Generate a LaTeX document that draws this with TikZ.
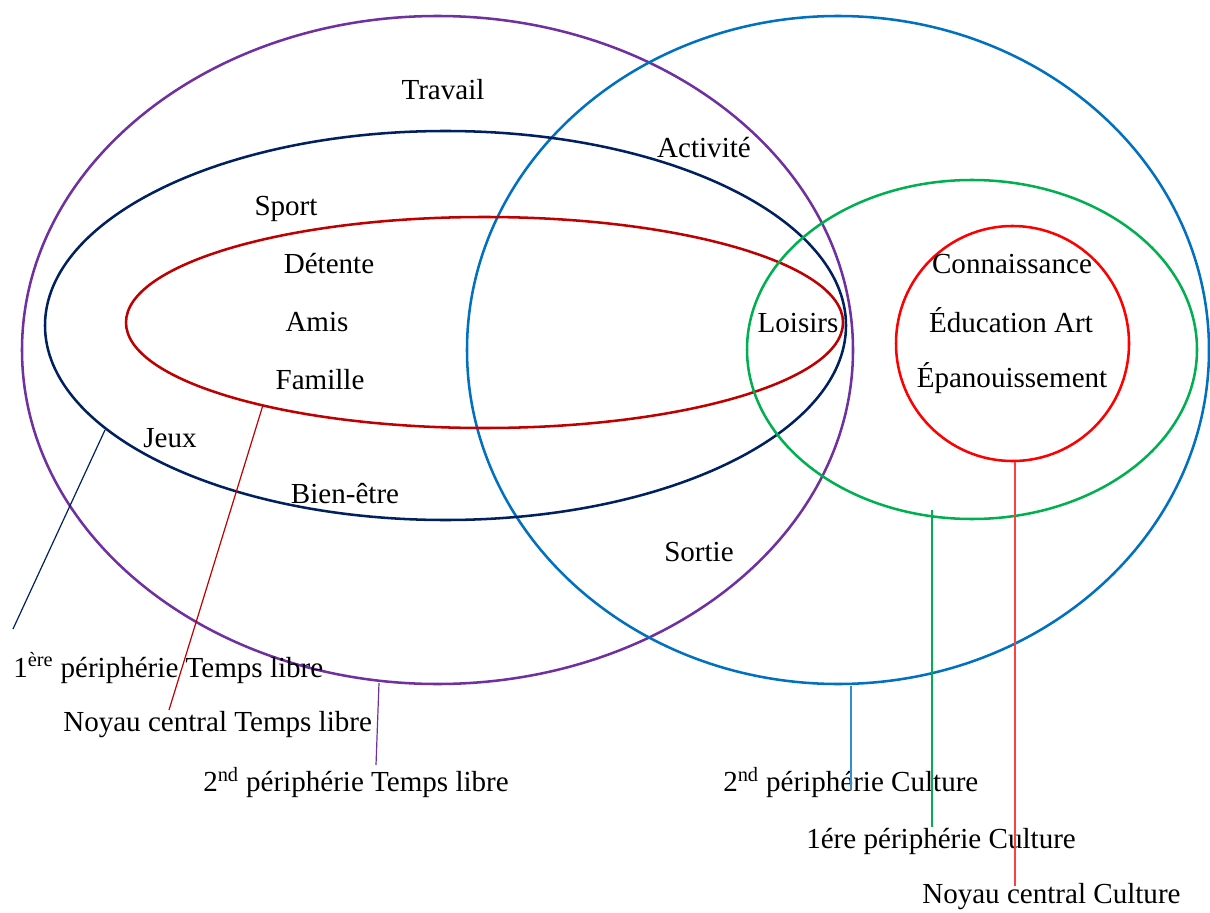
\documentclass[tikz,border=0pt]{standalone}
\usepackage{fontspec}
\setmainfont{Liberation Serif}
\usetikzlibrary{shapes.geometric}
\definecolor{cPurple}{HTML}{7030A0}
\definecolor{cBlue}{HTML}{0070C0}
\definecolor{cNavy}{HTML}{002060}
\definecolor{cDarkRed}{HTML}{C00000}
\definecolor{cGreen}{HTML}{00B050}
\definecolor{cRed}{HTML}{FF0000}
\tikzset{
  ring/.style={line width=1.9pt},
  leader/.style={line width=0.9pt},
  word/.style={inner sep=0pt, font=\fontsize{21.8}{26}\selectfont},
  legend/.style={inner sep=0pt, anchor=west, font=\fontsize{21.8}{26}\selectfont},
}
\begin{document}
\begin{tikzpicture}[x=0.75pt,y=-0.75pt]
\useasboundingbox (0,0) rectangle (1210,913);
% ellipses
\draw[ring,cPurple] (437.5,350) ellipse [x radius=415.5, y radius=334];
\draw[ring,cBlue] (838,350) ellipse [x radius=371, y radius=334];
\draw[ring,cNavy] (445.5,325.5) ellipse [x radius=400.5, y radius=194.5];
\draw[ring,cDarkRed] (484.5,322.5) ellipse [x radius=358.5, y radius=105.5];
\draw[ring,cGreen] (972,349.5) ellipse [x radius=225, y radius=169.5];
\draw[ring,cRed] (1012.5,343.5) ellipse [x radius=116.5, y radius=117.5];
% words
\node[word] (travail) at (443,90) {Travail};
\node[word] (activite) at (704,148) {Activité};
\node[word] (sport) at (286,209) {Sport};
\node[word] (detente) at (329,264) {Détente};
\node[word] (amis) at (317,322) {Amis};
\node[word] (famille) at (320,380) {Famille};
\node[word] (loisirs) at (798,323) {Loisirs};
\node[word] (jeux) at (170,438) {Jeux};
\node[word] (bienetre) at (345,494) {Bien-être};
\node[word] (sortie) at (699,552) {Sortie};
\node[word] (connaissance) at (1012,264) {Connaissance};
\node[word] (education) at (1011,320) {Éducation Art};
\node[word] (epanouissement) at (1012,378) {Épanouissement};
% legends
\node[legend] (l1) at (13,668) {1\textsuperscript{ère} périphérie Temps libre};
\node[legend] (l2) at (63,725) {Noyau central Temps libre};
\node[legend] (l3) at (203,783) {2\textsuperscript{nd} périphérie Temps libre};
\node[legend] (l4) at (723,783) {2\textsuperscript{nd} périphérie Culture};
\node[legend] (l5) at (806,841) {1ére périphérie Culture};
\node[legend] (l6) at (922,897) {Noyau central Culture};
% leader end points
\coordinate (a1) at (105,430); \coordinate (b1) at (13,629);
\coordinate (a2) at (263,405); \coordinate (b2) at (169,710);
\coordinate (a3) at (379,683); \coordinate (b3) at (376,765);
\coordinate (a4) at (851,686); \coordinate (b4) at (851,790);
\coordinate (a5) at (932,510); \coordinate (b5) at (932,827);
\coordinate (a6) at (1015,462); \coordinate (b6) at (1015,886);
\draw[leader,cNavy] (a1) -- (b1);
\draw[leader,cDarkRed] (a2) -- (b2);
\draw[leader,cPurple] (a3) -- (b3);
\draw[leader,cBlue!80] (a4) -- (b4);
\draw[leader,cGreen] (a5) -- (b5);
\draw[leader,cRed!75] (a6) -- (b6);
\end{tikzpicture}
\end{document}
